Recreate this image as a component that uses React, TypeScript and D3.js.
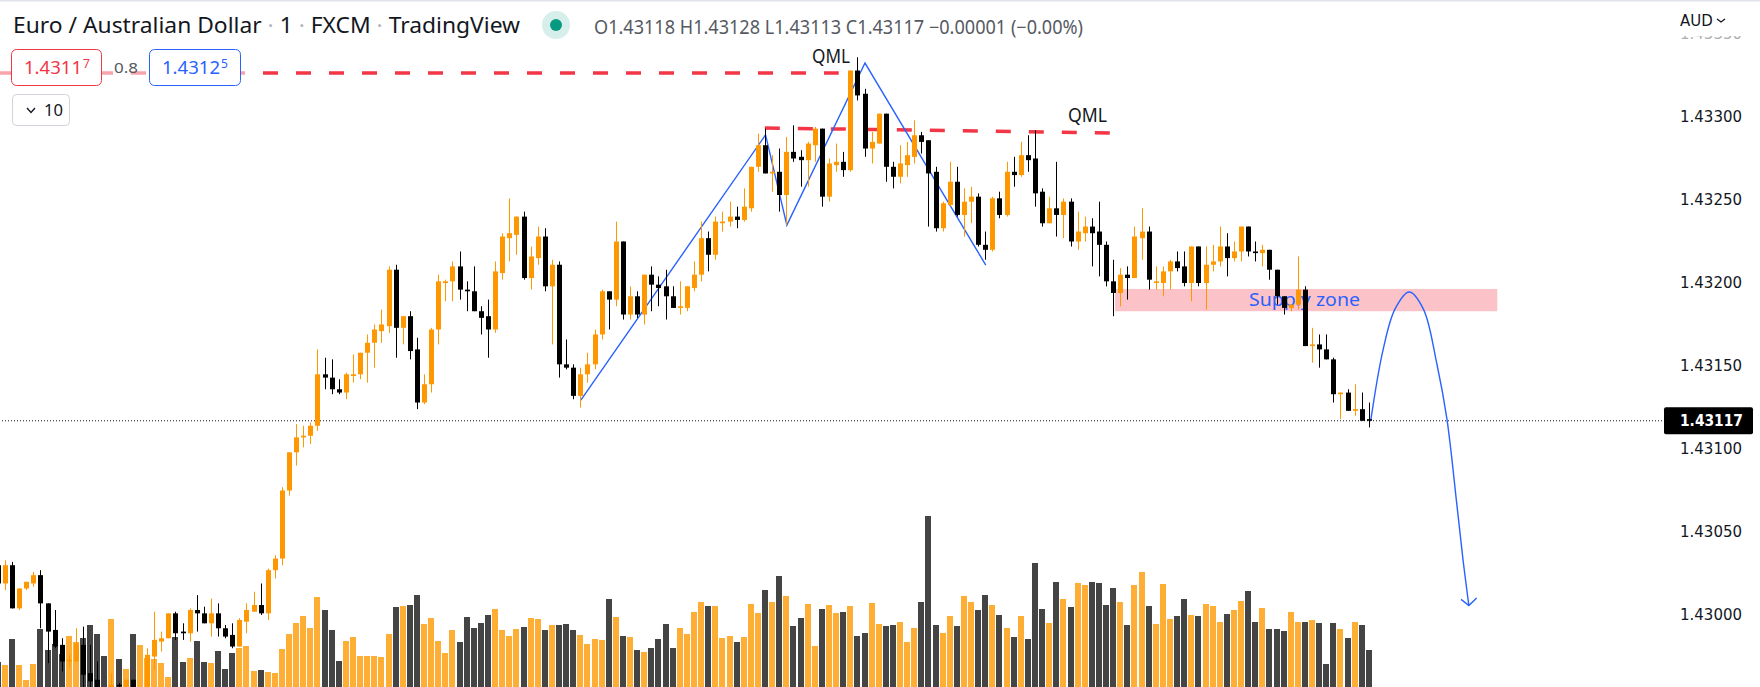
import React from "react";
import * as d3 from "d3";

// Prices are stored in points above 1.43000 (1 point = 0.00001)
const opens = [30,19,30,4,16,19,24,7,-9,-18,-28,-28,-18,-35,-39,-46,-51,-42,-48,-39,-51,-48,-25,-16,-14,1,-10,-11,3,1,-5,1,-8,-12,-19,-4,2,6,1,27,34,75,98,107,108,114,145,143,136,134,144,145,158,164,171,174,208,173,180,160,128,139,172,200,201,210,196,195,183,180,172,206,227,229,240,203,215,228,198,211,151,149,132,145,151,169,195,190,225,181,192,181,205,199,198,192,185,185,197,205,227,217,236,237,240,238,245,270,283,266,267,253,279,276,274,283,293,252,271,273,268,328,314,281,284,302,270,264,271,276,289,286,267,233,247,261,241,249,252,223,220,251,241,267,265,277,275,255,236,245,241,249,225,230,234,231,223,201,194,205,203,227,231,200,200,207,213,210,200,222,200,211,213,222,215,219,234,219,218,220,208,192,185,187,196,162,163,160,154,133,134,123,124,118];
const closes = [19,30,4,16,20,24,7,-10,-19,-28,-27,-17,-36,-40,-48,-51,-42,-43,-39,-48,-46,-24,-15,-14,1,-11,-11,3,1,-5,1,-8,-13,-19,-3,3,6,1,27,34,75,98,107,108,114,145,143,136,134,145,145,158,164,172,175,208,173,180,159,128,139,172,201,201,210,196,195,183,179,172,207,228,230,240,203,216,228,198,211,151,149,132,145,151,169,195,190,225,181,192,181,205,199,197,192,185,186,198,205,227,217,237,237,240,238,246,270,283,266,267,253,279,275,274,284,293,252,272,273,268,328,313,281,285,302,270,264,272,277,289,285,266,233,248,261,241,249,252,223,220,251,241,267,265,277,274,254,236,245,241,249,225,231,234,230,223,201,194,205,203,228,231,202,201,207,213,209,200,222,200,211,213,222,215,219,234,219,218,220,208,192,185,187,196,162,163,160,154,133,134,123,124,117,117];
const highs = [34,33,32,16,20,26,27,7,3,-14,-24,-8,-7,-18,-28,-45,-35,-41,-39,-39,-45,-20,2,-10,1,2,-5,4,12,5,10,7,-6,-5,-2,7,14,19,28,36,77,98,115,114,116,160,155,154,142,146,157,158,169,175,184,210,211,180,183,167,145,173,205,202,213,219,201,210,186,190,213,230,251,240,243,222,234,233,214,213,166,151,149,158,172,196,195,237,225,198,195,205,210,204,208,198,201,198,213,237,231,240,243,249,246,257,270,290,293,277,281,288,295,280,285,294,293,275,284,279,328,336,317,291,302,302,273,283,285,298,291,286,270,249,273,270,257,258,254,231,252,255,273,276,285,289,292,257,252,273,251,251,243,240,239,249,225,214,209,210,234,245,234,210,210,214,219,219,222,222,222,223,234,230,225,234,234,225,223,220,208,192,187,216,198,173,169,169,155,134,136,139,134,128];
const lows = [19,15,4,3,15,17,-8,-29,-20,-34,-32,-28,-45,-45,-51,-54,-54,-48,-51,-51,-52,-51,-33,-22,-14,-15,-15,-16,-10,-5,-13,-13,-14,-20,-19,-11,2,0,-3,22,30,72,90,101,103,111,136,133,133,130,140,142,140,149,164,170,155,163,154,124,127,134,163,189,189,190,183,183,169,155,170,202,213,217,202,196,211,195,163,143,148,130,125,140,148,166,172,186,178,178,179,175,183,186,178,185,181,183,195,201,207,214,231,234,233,237,243,267,266,255,243,235,273,258,258,273,246,249,267,264,267,310,276,272,284,261,257,260,264,272,278,234,231,231,246,240,228,236,222,214,219,239,240,258,264,267,246,234,236,228,227,222,220,225,210,204,198,180,186,190,203,214,196,196,192,196,207,198,189,198,184,207,210,204,213,213,216,213,210,202,187,181,183,184,162,152,149,154,128,118,123,120,117,113];
const volumes = [25,22,48,22,7,23,58,37,43,33,51,45,49,62,53,31,68,28,18,53,42,29,28,24,10,50,25,29,46,25,24,36,18,34,39,41,16,17,15,14,38,53,64,71,59,90,77,57,26,46,50,31,31,31,30,53,80,81,82,92,63,69,46,34,57,45,70,59,64,72,78,57,51,58,60,69,68,57,62,62,63,57,52,43,48,47,88,70,51,50,37,35,39,48,63,39,59,53,75,85,81,81,49,51,45,50,83,74,97,85,111,91,61,69,83,41,78,82,74,75,81,51,54,84,63,61,62,65,45,59,85,171,62,54,71,61,91,85,77,92,82,72,59,50,71,48,124,78,64,105,88,80,104,102,105,104,82,99,85,62,102,115,81,63,103,68,71,88,72,71,83,81,65,73,77,86,96,65,79,58,58,56,75,65,65,67,64,23,64,58,49,65,62,37];

const priceTicks = [1.433, 1.4325, 1.432, 1.4315, 1.431, 1.4305, 1.43];
const cutTick = 1.4335;
const lastPrice = 1.43117;

// Drawings, as [bar index, points]
const qmlHigh = { bars: [0, 118.3], pts: [326.5, 326.5] };
const qmlLow = { bars: [107.9, 156.6], pts: [293.4, 290.4] };
const zigBars = [82, 108, 111, 122, 139];
const zigPts = [129.5, 289.2, 234.9, 332.5, 210.8];
const arcBars = [193.2, 194.9, 196.6, 198.6, 200.6, 202.5, 203.9, 205.3, 206.2, 207];
const arcPts = [117.5, 159.3, 184.3, 194.6, 184.3, 151.2, 118.4, 66.9, 32.5, 5.7];
const headBars = [205.9, 207, 208.1];
const headPts = [9.4, 5.7, 10.3];
const zone = { bars: [157.2, 211], pts: [183, 196.4] };

const ORANGE = "#ff9800";
const VOL_ORANGE = "#ffae35";
const VOL_DARK = "#444444";
const RED = "#f23645";
const BLUE = "#2962ff";
const INK = "#131722";
const HEAD = "'Noto Sans', sans-serif";
const AXIS = "'DejaVu Sans', sans-serif";

const x = d3.scaleLinear().domain([0, 193]).range([-1.7, 1369.4]);
const yPrice = d3.scaleLinear().domain([1.43, 1.433]).range([615, 117]);
const y = (p: number) => yPrice(1.43 + p * 1e-5);
const volH = d3.scaleLinear().domain([0, 171]).range([0, 171]);
const BOTTOM = 687;
const fmt = d3.format(".5f");

export default function App() {
  const linePx = d3.line<[number, number]>().x(d => x(d[0])).y(d => y(d[1]));
  const arcPx = d3.line<[number, number]>().x(d => x(d[0])).y(d => y(d[1])).curve(d3.curveCatmullRom.alpha(0.5));
  const zip = (a: number[], b: number[]) => a.map((v, i) => [v, b[i]] as [number, number]);
  const yLast = yPrice(lastPrice);
  return (
    <svg width={1760} height={687} style={{ position: "fixed", left: 0, top: 0, background: "#fff" }}>
      <defs>
        <clipPath id="cut"><rect x={1600} y={36} width={160} height={10} /></clipPath>
      </defs>
      <rect x={0} y={0} width={1760} height={1.5} fill="#e0e3eb" />

      {/* volume */}
      {volumes.map((v, i) => (
        <rect key={i} x={Math.floor(x(i)) - 3} y={BOTTOM - volH(v)} width={6} height={volH(v)}
          fill={closes[i] >= opens[i] ? VOL_ORANGE : VOL_DARK} />
      ))}

      {/* last price dotted line */}
      <line x1={2} x2={1664} y1={yLast} y2={yLast} stroke="#131722" strokeWidth={1} strokeDasharray="1 2" />

      {/* drawings */}
      <rect x={x(zone.bars[0])} width={x(zone.bars[1]) - x(zone.bars[0])} y={y(zone.pts[1])}
        height={y(zone.pts[0]) - y(zone.pts[1])} fill={RED} fillOpacity={0.3} />
      <text x={1249} y={306} fontFamily={HEAD} fontSize={18} fill={BLUE} textLength={111} lengthAdjust="spacingAndGlyphs">Supply zone</text>
      <path d={linePx(zip(qmlHigh.bars, qmlHigh.pts)) || ""} stroke={RED} strokeWidth={3.5} fill="none" strokeDasharray="15 18" strokeDashoffset={-0.7} />
      <path d={linePx(zip(qmlLow.bars, qmlLow.pts)) || ""} stroke={RED} strokeWidth={3.5} fill="none" strokeDasharray="15 18" />
      <path d={linePx(zip(zigBars, zigPts)) || ""} stroke={BLUE} strokeWidth={1.4} fill="none" />
      <path d={arcPx(zip(arcBars, arcPts)) || ""} stroke={BLUE} strokeWidth={1.4} fill="none" />
      <path d={linePx(zip(headBars, headPts)) || ""} stroke={BLUE} strokeWidth={1.4} fill="none" />
      <text x={812} y={63} fontFamily={HEAD} fontSize={19} fill={INK} textLength={38} lengthAdjust="spacingAndGlyphs">QML</text>
      <text x={1068} y={122} fontFamily={HEAD} fontSize={19} fill={INK} textLength={39} lengthAdjust="spacingAndGlyphs">QML</text>

      {/* candles */}
      {opens.map((o, i) => {
        const c = closes[i];
        const col = c >= o ? ORANGE : "#000";
        const cx = Math.floor(x(i));
        const top = y(Math.max(o, c));
        const bot = y(Math.min(o, c));
        return (
          <g key={i} fill={col}>
            <rect x={cx} y={y(highs[i])} width={1} height={y(lows[i]) - y(highs[i])} />
            <rect x={cx - 2} y={top} width={5} height={Math.max(bot - top, 1.5)} />
          </g>
        );
      })}

      {/* header */}
      <rect x={0} y={45} width={245} height={46} fill="#fff" fillOpacity={0.55} />
      <text x={13} y={33} fontFamily={HEAD} fontSize={21} fill={INK} textLength={507} lengthAdjust="spacingAndGlyphs">
        Euro / Australian Dollar <tspan fill="#b2b5be">·</tspan> 1 <tspan fill="#b2b5be">·</tspan> FXCM <tspan fill="#b2b5be">·</tspan> TradingView
      </text>
      <circle cx={556} cy={25} r={14} fill="#d6efeb" />
      <circle cx={556} cy={25} r={6} fill="#089981" />
      <text x={594} y={34} fontFamily={HEAD} fontSize={19} fill="#555962" textLength={489} lengthAdjust="spacingAndGlyphs">O1.43118 H1.43128 L1.43113 C1.43117 −0.00001 (−0.00%)</text>

      <rect x={11.5} y={49.5} width={90} height={36} rx={5} fill="#fff" stroke={RED} />
      <text x={24} y={74} fontFamily={HEAD} fontSize={18} fill={RED} textLength={58} lengthAdjust="spacingAndGlyphs">1.4311</text>
      <text x={83} y={68} fontFamily={HEAD} fontSize={12} fill={RED}>7</text>
      <text x={114} y={73} fontFamily={HEAD} fontSize={15} fill="#555962" textLength={24} lengthAdjust="spacingAndGlyphs">0.8</text>
      <rect x={149.5} y={49.5} width={91} height={36} rx={5} fill="#fff" stroke={BLUE} />
      <text x={162} y={74} fontFamily={HEAD} fontSize={18} fill={BLUE} textLength={58} lengthAdjust="spacingAndGlyphs">1.4312</text>
      <text x={221} y={68} fontFamily={HEAD} fontSize={12} fill={BLUE}>5</text>
      <rect x={12.5} y={94.5} width={57} height={31} rx={4} fill="#fff" stroke="#d1d4dc" />
      <path d="M27 108 L31 112.5 L35 108" fill="none" stroke={INK} strokeWidth={1.3} />
      <text x={44} y={116} fontFamily={HEAD} fontSize={17} fill={INK} textLength={19} lengthAdjust="spacingAndGlyphs">10</text>

      {/* price axis */}
      <text x={1680} y={26} fontFamily={AXIS} fontSize={15} fill={INK}>AUD</text>
      <path d="M1717 19 L1721 22 L1725 19" fill="none" stroke={INK} strokeWidth={1.3} />
      <g clipPath="url(#cut)">
        <text x={1680} y={yPrice(cutTick)} dy="0.35em" fontFamily={AXIS} fontSize={15} fill="#131722" opacity={0.35}>{fmt(cutTick)}</text>
      </g>
      {priceTicks.map(t => (
        <text key={t} x={1680} y={yPrice(t)} dy="0.36em" fontFamily={AXIS} fontSize={15} fill={INK}>{fmt(t)}</text>
      ))}
      <rect x={1664} y={yLast - 13.5} width={89} height={27} rx={2} fill="#000" />
      <text x={1680} y={yLast} dy="0.36em" fontFamily={AXIS} fontSize={15} fontWeight={700} fill="#fff" textLength={63} lengthAdjust="spacingAndGlyphs">{fmt(lastPrice)}</text>
    </svg>
  );
}
